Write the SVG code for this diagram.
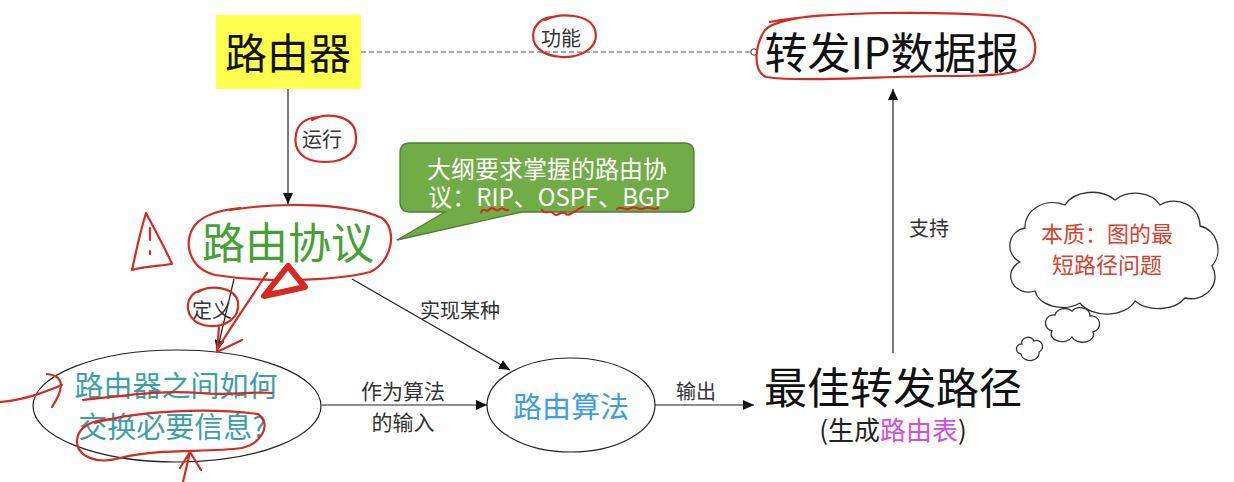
<svg xmlns="http://www.w3.org/2000/svg" width="1234" height="482" viewBox="0 0 1234 482">
<defs>
<marker id="arr" markerUnits="userSpaceOnUse" markerWidth="12" markerHeight="10" refX="11" refY="5" orient="auto"><path d="M0,0 L11,5 L0,10 Z" fill="#111"/></marker>
<marker id="dot" markerUnits="userSpaceOnUse" markerWidth="10" markerHeight="10" refX="8" refY="5" orient="auto"><circle cx="5" cy="5" r="3.2" fill="#fff" stroke="#333" stroke-width="1"/></marker>
<style>
text{font-family:"Noto Sans CJK SC","Noto Sans",sans-serif;}
.big{font-size:43px;fill:#111;text-anchor:middle;}
.lbl{font-size:20px;fill:#333;text-anchor:middle;}
.conn{stroke:#222;stroke-width:1.2;fill:none;}
.red{stroke:#d42a22;stroke-width:2.2;fill:none;stroke-linecap:round;stroke-linejoin:round;}
.cloud{fill:#fff;stroke:#333;stroke-width:1.3;}
</style>
</defs>
<rect width="1234" height="482" fill="#fff"/>

<g id="connectors">
<line x1="361" y1="52" x2="757" y2="52" stroke="#555" stroke-width="1.2" stroke-dasharray="5 3" marker-end="url(#dot)"/>
<line class="conn" x1="288" y1="89" x2="288" y2="204" marker-end="url(#arr)"/>
<line class="conn" x1="352" y1="279" x2="510" y2="370" marker-end="url(#arr)"/>
<line class="conn" x1="234" y1="279" x2="217" y2="351" marker-end="url(#arr)"/>
<line class="conn" x1="322" y1="405" x2="487" y2="405" marker-end="url(#arr)"/>
<line class="conn" x1="655" y1="405" x2="754" y2="405" marker-end="url(#arr)"/>
<line class="conn" x1="893" y1="353" x2="893" y2="89" marker-end="url(#arr)"/>
<text class="lbl" x="561" y="46">功能</text>
<text class="lbl" x="322" y="147">运行</text>
<text class="lbl" x="460" y="318">实现某种</text>
<text class="lbl" x="212" y="318">定义</text>
<text class="lbl" x="403" y="399" style="font-size:21px">作为算法</text>
<text class="lbl" x="403" y="430" style="font-size:21px">的输入</text>
<text class="lbl" x="696" y="399">输出</text>
<text class="lbl" x="929" y="236">支持</text>
</g>

<g id="router">
<rect x="216" y="15" width="145" height="74" fill="#ffff4d"/>
<text class="big" x="288" y="69" style="font-size:42px">路由器</text>
</g>

<g id="forward-ip">
<text class="big" x="892" y="69">转发IP数据报</text>
</g>

<g id="routing-protocol">
<text class="big" x="288" y="259" style="fill:#45a035">路由协议</text>
</g>

<g id="bubble">
<path d="M410,143 H684 Q694,143 694,153 V202 Q694,212 684,212 H522 L397,240 L445,212 H410 Q400,212 400,202 V153 Q400,143 410,143 Z" fill="#70ad47" stroke="#507e32" stroke-width="1.3"/>
<text x="547" y="178" style="font-size:24px;fill:#fff;text-anchor:middle">大纲要求掌握的路由协</text>
<text x="549" y="206" style="font-size:24px;fill:#fff;text-anchor:middle">议：RIP、OSPF、BGP</text>
</g>

<g id="exchange-info">
<ellipse cx="177" cy="406" rx="144" ry="56" fill="none" stroke="#222" stroke-width="1.2"/>
<text x="176" y="397" style="font-size:29px;fill:#3aa0a8;text-anchor:middle">路由器之间如何</text>
<text x="172" y="438" style="font-size:29px;fill:#3aa0a8;text-anchor:middle">交换必要信息?</text>
</g>

<g id="routing-algorithm">
<ellipse cx="571" cy="405" rx="84" ry="47" fill="none" stroke="#222" stroke-width="1.2"/>
<text x="571" y="418" style="font-size:29px;fill:#3d9de6;text-anchor:middle">路由算法</text>
</g>

<g id="best-path">
<text class="big" x="893" y="404">最佳转发路径</text>
<text x="893" y="440" style="font-size:26px;fill:#222;text-anchor:middle">(生成<tspan fill="#d24fe0">路由表</tspan>)</text>
</g>

<g id="thought-cloud">
<path class="cloud" d="M1020,262 A18,18 0 0 1 1025,228 A28,24 0 0 1 1065,205 A30,22 0 0 1 1115,200 A28,22 0 0 1 1160,205 A26,24 0 0 1 1200,226 A22,24 0 0 1 1212,266 A24,22 0 0 1 1185,298 A30,20 0 0 1 1135,301 A30,20 0 0 1 1080,303 A28,20 0 0 1 1035,291 A18,16 0 0 1 1020,262 Z"/>
<path class="cloud" d="M1052,331 A8,8 0 0 1 1055,315 A10,8 0 0 1 1072,311 A10,8 0 0 1 1090,316 A8,8 0 0 1 1093,332 A10,7 0 0 1 1072,337 A10,7 0 0 1 1052,331 Z"/>
<path class="cloud" d="M1021,354 A5,5 0 0 1 1022,344 A6,5 0 0 1 1034,341 A5,5 0 0 1 1039,352 A6,5 0 0 1 1021,354 Z"/>
<text x="1107" y="242" style="font-size:22px;fill:#d9412b;text-anchor:middle">本质：图的最</text>
<text x="1107" y="273" style="font-size:22px;fill:#d9412b;text-anchor:middle">短路径问题</text>
</g>

<g id="annotations">
<path class="red" d="M545,20 C560,12 590,14 595,30 C600,48 580,58 562,57 C540,56 530,44 534,30 C537,22 545,17 552,17"/>
<path class="red" d="M770,22 C830,10 950,12 1000,16 C1030,20 1040,40 1033,60 C1025,76 990,76 940,76 C870,77 800,82 766,77 C752,70 755,45 765,30 C772,22 800,16 830,15"/>
<path class="red" d="M312,120 C325,112 350,115 355,130 C360,150 348,162 325,162 C302,162 293,150 296,134 C298,124 306,118 318,117"/>
<path class="red" d="M230,210 C280,202 350,203 382,218 C398,230 392,262 370,272 C330,282 260,282 215,275 C188,268 182,240 196,224 C205,214 220,210 240,208"/>
<path class="red" d="M146,213 C140,232 136,252 132,270 C145,266 160,266 172,264 C165,248 155,230 146,213 Z"/>
<path class="red" d="M150,228 L150,240 M150,251 L150,254"/>
<path d="M288,266 L264,296 L305,287 Z" fill="#fff" stroke="#d42a22" stroke-width="6" stroke-linejoin="round"/>
<path class="red" d="M198,292 C210,284 235,287 238,302 C240,318 226,327 210,326 C192,325 185,312 189,300 C192,293 198,290 205,289"/>
<path class="red" d="M267,273 C250,300 232,325 217,350 M219,327 L217,352 L242,340"/>
<path class="red" d="M0,402 C25,400 45,392 62,385 M47,374 C60,375 68,383 52,407"/>
<path class="red" d="M83,400 C130,395 160,390 200,393 C230,396 255,391 272,393"/>
<path class="red" d="M95,423 C140,410 210,408 258,414 C272,424 262,443 242,448 C205,453 160,448 120,458 C96,465 76,456 77,440 C78,427 92,420 110,419"/>
<path class="red" d="M183,482 L190,452 M180,468 L190,452 L201,470"/>
<path class="red" d="M481,212 C484,206 487,214 490,209 C493,205 496,214 500,209 C503,207 505,211 508,210"/>
<path class="red" d="M542,210 C546,216 550,208 554,214 C558,218 561,209 566,214 C570,217 574,210 583,207"/>
<path class="red" d="M617,209 C622,205 626,212 631,208 C636,205 640,212 645,208 C650,206 654,211 658,208"/>
</g>
</svg>
